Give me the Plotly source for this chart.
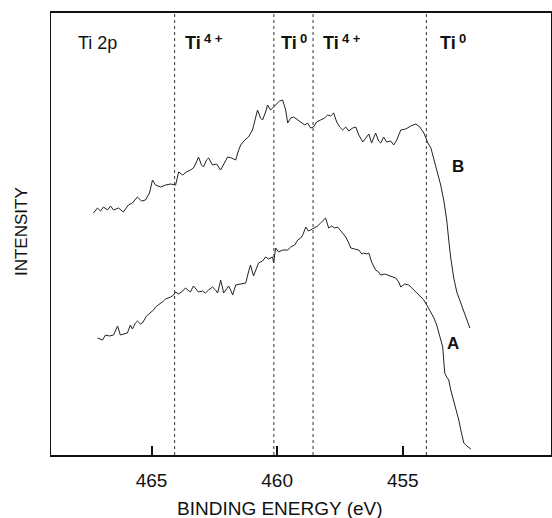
import plotly.graph_objects as go

# Binding energy (eV) and intensity (arb. units)
b_energy = [467.31, 467.15, 467.03, 466.91, 466.75, 466.63, 466.51, 466.31, 466.12, 465.92,
            465.76, 465.56, 465.40, 465.24, 465.08, 464.96, 464.84, 464.64, 464.44, 464.24,
            464.04, 463.92, 463.76, 463.61, 463.45, 463.33, 463.21, 463.13, 463.01, 462.93,
            462.81, 462.73, 462.57, 462.41, 462.25, 462.09, 461.97, 461.81, 461.65, 461.53,
            461.45, 461.29, 461.14, 460.98, 460.86, 460.78, 460.66, 460.58, 460.46, 460.38,
            460.26, 460.14, 460.02, 459.90, 459.78, 459.66, 459.58, 459.46, 459.34, 459.18,
            459.06, 458.90, 458.79, 458.67, 458.55, 458.43, 458.27, 458.11, 457.99, 457.87,
            457.75, 457.63, 457.51, 457.39, 457.27, 457.15, 456.99, 456.87, 456.75, 456.59,
            456.47, 456.35, 456.24, 456.08, 455.96, 455.88, 455.76, 455.64, 455.48, 455.36,
            455.24, 455.08, 454.88, 454.68, 454.48, 454.32, 454.16, 454.00, 453.88, 453.76,
            453.61, 453.49, 453.37, 453.25, 453.17, 453.09, 452.97, 452.85, 452.69, 452.53,
            452.41, 452.33]
b_intensity = [242, 247, 244, 248, 245, 249, 245, 247, 243, 250,
               252, 258, 254, 255, 262, 275, 270, 268, 270, 271,
               270, 283, 280, 283, 285, 287, 293, 298, 290, 288,
               295, 297, 290, 291, 285, 292, 298, 297, 295, 305,
               310, 315, 318, 325, 338, 345, 337, 335, 343, 350,
               345, 348, 351, 354, 355, 345, 332, 337, 338, 335,
               333, 330, 332, 327, 328, 333, 335, 337, 340, 339,
               342, 333, 328, 325, 328, 324, 327, 328, 320, 313,
               317, 321, 312, 322, 314, 312, 318, 313, 314, 310,
               315, 325, 326, 329, 331, 328, 322, 312, 307, 295,
               283, 270, 255, 235, 215, 197, 177, 163, 152, 140,
               133, 127]

a_energy = [467.15, 467.03, 466.95, 466.83, 466.67, 466.51, 466.35, 466.24, 466.08, 465.96,
            465.84, 465.76, 465.64, 465.56, 465.44, 465.36, 465.20, 465.04, 464.92, 464.84,
            464.72, 464.64, 464.52, 464.44, 464.32, 464.24, 464.12, 464.04, 463.92, 463.76,
            463.65, 463.53, 463.45, 463.33, 463.21, 463.13, 462.97, 462.85, 462.73, 462.57,
            462.45, 462.37, 462.29, 462.25, 462.17, 462.13, 462.01, 461.93, 461.85, 461.77,
            461.65, 461.45, 461.25, 461.14, 461.06, 460.94, 460.82, 460.74, 460.58, 460.46,
            460.34, 460.18, 460.14, 460.06, 459.94, 459.78, 459.58, 459.46, 459.30, 459.18,
            459.06, 458.98, 458.86, 458.75, 458.67, 458.55, 458.39, 458.27, 458.15, 458.07,
            457.95, 457.83, 457.71, 457.59, 457.43, 457.27, 457.15, 457.07, 456.91, 456.75,
            456.63, 456.55, 456.43, 456.35, 456.24, 456.08, 455.96, 455.88, 455.72, 455.60,
            455.44, 455.28, 455.16, 455.08, 454.92, 454.76, 454.64, 454.56, 454.40, 454.28,
            454.16, 454.00, 453.88, 453.76, 453.65, 453.53, 453.41, 453.37, 453.33, 453.25,
            453.17, 453.09, 453.01, 452.89, 452.77, 452.69, 452.61, 452.57, 452.45, 452.29]
a_intensity = [117, 116, 115, 120, 119, 120, 129, 120, 121, 122,
               130, 126, 132, 134, 131, 132, 139, 142, 145, 148,
               150, 152, 154, 156, 157, 158, 160, 163, 161, 164,
               167, 164, 163, 169, 165, 163, 164, 162, 165, 168,
               165, 162, 170, 175, 167, 162, 166, 169, 165, 160,
               170, 171, 172, 183, 190, 179, 187, 192, 194, 198,
               196, 198, 192, 207, 203, 205, 205, 208, 210, 215,
               217, 220, 228, 224, 225, 227, 229, 232, 235, 237,
               227, 229, 227, 228, 223, 218, 212, 207, 206, 205,
               201, 202, 201, 202, 193, 185, 183, 180, 181, 180,
               178, 177, 173, 168, 171, 170, 167, 165, 161, 158,
               155, 148, 143, 137, 130, 120, 108, 95, 82, 78,
               75, 65, 58, 47, 35, 25, 17, 12, 9, 6]

tick_vals = [465, 460, 455]
tick_text = ["465", "460", "455"]
ref_lines = [464.08, 460.13, 458.57, 454.06]
peak_base = ["Ti", "Ti", "Ti", "Ti"]
peak_sup = ["4 +", "0", "4 +", "0"]
peak_label_x = [463.73, 459.94, 458.27, 453.61]
curve_labels = ["B", "A"]
curve_label_x = [452.82, 453.0]
curve_label_y = [289, 112]

FONT = "Liberation Sans, Arial, Helvetica, sans-serif"
INK = "#111111"
fig = go.Figure()
fig.add_trace(go.Scatter(x=b_energy, y=b_intensity, mode="lines",
                         line=dict(color="#222222", width=1), showlegend=False))
fig.add_trace(go.Scatter(x=a_energy, y=a_intensity, mode="lines",
                         line=dict(color="#222222", width=1), showlegend=False))

for xv in ref_lines:
    fig.add_shape(type="line", xref="x", yref="paper", x0=xv, x1=xv, y0=0, y1=1,
                  line=dict(color="#333333", width=1, dash="dot"))

annotations = [dict(x=0.05, y=0.932, xref="paper", yref="paper", text="Ti 2p",
                    showarrow=False, xanchor="left", yanchor="middle",
                    font=dict(family=FONT, size=18, color=INK))]
for base, sup, xv in zip(peak_base, peak_sup, peak_label_x):
    annotations.append(dict(x=xv, y=0.932, xref="x", yref="paper", text="<b>" + base + "</b>",
                            showarrow=False, xanchor="left", yanchor="middle",
                            font=dict(family=FONT, size=18, color=INK)))
    annotations.append(dict(x=xv, y=0.943, xref="x", yref="paper", text="<b>" + sup + "</b>",
                            showarrow=False, xanchor="left", yanchor="middle", xshift=19,
                            font=dict(family=FONT, size=13, color=INK)))
for lbl, xv, yv in zip(curve_labels, curve_label_x, curve_label_y):
    annotations.append(dict(x=xv, y=yv, xref="x", yref="y", text="<b>" + lbl + "</b>",
                            showarrow=False, xanchor="center", yanchor="middle",
                            font=dict(family=FONT, size=17, color=INK)))
annotations.append(dict(x=-0.06, y=0.5045, xref="paper", yref="paper", text="INTENSITY",
                        textangle=-90, showarrow=False, xanchor="center", yanchor="middle",
                        font=dict(family=FONT, size=17, color=INK)))
annotations.append(dict(x=0.458, y=-0.12, xref="paper", yref="paper",
                        text="BINDING ENERGY (eV)", showarrow=False,
                        xanchor="center", yanchor="middle",
                        font=dict(family=FONT, size=19, color=INK)))
fig.update_layout(annotations=annotations)

fig.update_layout(
    width=552, height=518,
    margin=dict(l=51, r=1, t=13, b=63),
    paper_bgcolor="white", plot_bgcolor="white",
    font=dict(family=FONT, color=INK),
    xaxis=dict(range=[469.0, 449.1], tickvals=tick_vals, ticktext=tick_text,
               ticks="inside", ticklen=9, tickwidth=1.5, tickcolor=INK,
               showline=True, linecolor=INK, linewidth=1.5, mirror=True,
               showgrid=False, zeroline=False, ticklabelstandoff=7,
               tickfont=dict(family=FONT, size=19, color=INK)),
    yaxis=dict(range=[0, 442], showticklabels=False, ticks="",
               showline=True, linecolor=INK, linewidth=1.2, mirror=True,
               showgrid=False, zeroline=False),
)

fig.write_html("out.html")
